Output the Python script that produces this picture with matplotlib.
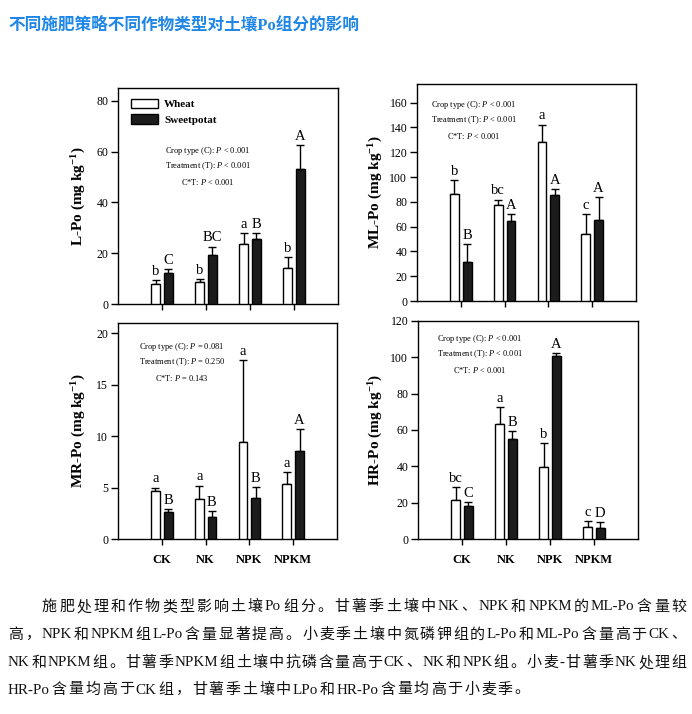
import matplotlib
matplotlib.use('Agg')
import matplotlib.pyplot as plt
import numpy as np

plt.rcParams['font.family'] = ['Liberation Serif', 'Noto Sans CJK SC', 'DejaVu Sans']
plt.rcParams['mathtext.fontset'] = 'custom'
plt.rcParams['mathtext.rm'] = 'Liberation Serif'
plt.rcParams['mathtext.it'] = 'Liberation Serif:italic'
plt.rcParams['mathtext.bf'] = 'Liberation Serif:bold'

W, H = 692, 714

TITLE = '不同施肥策略不同作物类型对土壤Po组分的影响'
PARAGRAPH = [
    '施肥处理和作物类型影响土壤Po组分。甘薯季土壤中NK、NPK和NPKM的ML-Po含量较',
    '高，NPK和NPKM组L-Po含量显著提高。小麦季土壤中氮磷钾组的L-Po和ML-Po含量高于CK、',
    'NK和NPKM组。甘薯季NPKM组土壤中抗磷含量高于CK、NK和NPK组。小麦-甘薯季NK处理组',
    'HR-Po含量均高于CK组，甘薯季土壤中LPo和HR-Po含量均高于小麦季。',
]

treatments = ['CK', 'NK', 'NPK', 'NPKM']
crops = ['Wheat', 'Sweetpotat']

# L-Po
lpo_wheat = [7.7, 8.8, 23.5, 14.3]
lpo_wheat_err = [1.7, 1.2, 4.3, 4.1]
lpo_sweet = [12.3, 19.4, 25.6, 53.2]
lpo_sweet_err = [1.6, 3.2, 2.5, 9.2]
lpo_wheat_sig = ['b', 'b', 'a', 'b']
lpo_sweet_sig = ['C', 'BC', 'B', 'A']
lpo_stats = ['< 0.001', '< 0.001', '< 0.001']

# ML-Po
mlpo_wheat = [86.4, 77.2, 128.4, 53.9]
mlpo_wheat_err = [10.8, 4.6, 13.9, 16.3]
mlpo_sweet = [31.6, 64.5, 85.6, 65.3]
mlpo_sweet_err = [14.3, 5.7, 4.9, 18.2]
mlpo_wheat_sig = ['b', 'bc', 'a', 'c']
mlpo_sweet_sig = ['B', 'A', 'A', 'A']
mlpo_stats = ['< 0.001', '< 0.001', '< 0.001']

# MR-Po
mrpo_wheat = [4.63, 3.9, 9.4, 5.37]
mrpo_wheat_err = [0.37, 1.3, 8.0, 1.1]
mrpo_sweet = [2.65, 2.17, 4.0, 8.6]
mrpo_sweet_err = [0.3, 0.53, 1.05, 2.05]
mrpo_wheat_sig = ['a', 'a', 'a', 'a']
mrpo_sweet_sig = ['B', 'B', 'B', 'A']
mrpo_stats = ['= 0.081', '= 0.250', '= 0.143']

# HR-Po
hrpo_wheat = [21.4, 63.1, 39.9, 6.6]
hrpo_wheat_err = [7.0, 9.3, 13.1, 3.4]
hrpo_sweet = [17.9, 55.2, 100.6, 6.3]
hrpo_sweet_err = [2.4, 4.1, 2.0, 3.1]
hrpo_wheat_sig = ['bc', 'a', 'b', 'c']
hrpo_sweet_sig = ['C', 'B', 'A', 'D']
hrpo_stats = ['< 0.001', '< 0.001', '< 0.001']

STAT_NAMES = ['Crop type (C)', 'Treatment (T)', 'C*T']


def frac(l, t, r, b):
    return [l / W, 1 - b / H, (r - l) / W, (b - t) / H]


fig = plt.figure(figsize=(W / 100, H / 100), dpi=100)
fig.patch.set_facecolor('white')

panels = [
    dict(rect=frac(118, 88, 338, 304), ylab='L-Po', ylim=85, step=20,
         w=lpo_wheat, we=lpo_wheat_err, s=lpo_sweet, se=lpo_sweet_err,
         wsig=lpo_wheat_sig, ssig=lpo_sweet_sig, stats=lpo_stats,
         stat_xy=(208, 151), labx=-0.136, xlabels=False, legend=True),
    dict(rect=frac(417, 84, 636, 301), ylab='ML-Po', ylim=175, step=20,
         w=mlpo_wheat, we=mlpo_wheat_err, s=mlpo_sweet, se=mlpo_sweet_err,
         wsig=mlpo_wheat_sig, ssig=mlpo_sweet_sig, stats=mlpo_stats,
         stat_xy=(474, 105), labx=-0.146, xlabels=False, legend=False),
    dict(rect=frac(118, 323, 337, 539), ylab='MR-Po', ylim=21, step=5,
         w=mrpo_wheat, we=mrpo_wheat_err, s=mrpo_sweet, se=mrpo_sweet_err,
         wsig=mrpo_wheat_sig, ssig=mrpo_sweet_sig, stats=mrpo_stats,
         stat_xy=(182, 347), labx=-0.137, xlabels=True, legend=False),
    dict(rect=frac(418, 321, 638, 539), ylab='HR-Po', ylim=120, step=20,
         w=hrpo_wheat, we=hrpo_wheat_err, s=hrpo_sweet, se=hrpo_sweet_err,
         wsig=hrpo_wheat_sig, ssig=hrpo_sweet_sig, stats=hrpo_stats,
         stat_xy=(480, 339), labx=-0.15, xlabels=True, legend=False),
]

x = np.arange(1, len(treatments) + 1)
off = 0.145
bw = 0.2

for p in panels:
    ax = fig.add_axes(p['rect'])
    zeros = np.zeros(len(x))
    bw_ = ax.bar(x - off, p['w'], bw, color='white', edgecolor='black',
                 linewidth=1.0, label=crops[0], zorder=3)
    bs_ = ax.bar(x + off, p['s'], bw, color='#1c1c1c', edgecolor='black',
                 linewidth=1.0, label=crops[1], zorder=3)
    ax.errorbar(x - off, p['w'], yerr=[zeros, p['we']], fmt='none',
                ecolor='black', elinewidth=1.0, capsize=3, capthick=1.0, zorder=2)
    ax.errorbar(x + off, p['s'], yerr=[zeros, p['se']], fmt='none',
                ecolor='black', elinewidth=1.0, capsize=3, capthick=1.0, zorder=2)

    for xi, v, e, lab in zip(x - off, p['w'], p['we'], p['wsig']):
        ax.annotate(lab, (xi, v + e), xytext=(0, 1.5), textcoords='offset points',
                    ha='center', va='bottom', fontsize=10.5)
    for xi, v, e, lab in zip(x + off, p['s'], p['se'], p['ssig']):
        ax.annotate(lab, (xi, v + e), xytext=(0, 1.5), textcoords='offset points',
                    ha='center', va='bottom', fontsize=10.5)

    ax.set_xlim(0, 5)
    ax.set_ylim(0, p['ylim'])
    ax.set_yticks(np.arange(0, p['ylim'] + 0.01, p['step']))
    ax.set_xticks(x)
    if p['xlabels']:
        ax.set_xticklabels(treatments, fontsize=9, fontweight='bold')
    else:
        ax.set_xticklabels([])
    ax.tick_params(axis='y', direction='out', length=5, width=1, labelsize=8.5, pad=2)
    ax.tick_params(axis='x', direction='out', length=4.5, width=1, pad=6)
    for sp in ax.spines.values():
        sp.set_linewidth(1.0)

    ax.set_ylabel(p['ylab'] + r' (mg kg$\mathbf{^{-1}}$)', fontsize=11,
                  fontweight='bold')
    ax.yaxis.set_label_coords(p['labx'], 0.5)

    sx, sy = p['stat_xy']
    for i, (name, val) in enumerate(zip(STAT_NAMES, p['stats'])):
        fig.text(sx / W, 1 - (sy + i * 15.5) / H, name + ': $P$ ' + val,
                 ha='center', va='center', fontsize=6)

    if p['legend']:
        ax.legend(handles=[bw_, bs_], loc='upper left',
                  bbox_to_anchor=((131 - 118) / 220, (304 - 99) / 216),
                  frameon=False, borderpad=0, borderaxespad=0,
                  handlelength=2.4, handleheight=0.9, handletextpad=0.6,
                  labelspacing=0.45, prop=dict(size=8, weight='bold'))

fig.text(8 / W, 1 - 25 / H, TITLE, color='#1e86e6', fontsize=12,
         fontweight='bold', ha='left', va='center',
         family=['Liberation Serif', 'Noto Sans CJK SC'])


# paragraph: justified, one token per CJK char, latin runs kept together
def tokens(line):
    out, run = [], ''
    for ch in line:
        if ord(ch) < 128:
            run += ch
        else:
            if run:
                out.append(run)
                run = ''
            out.append(ch)
    if run:
        out.append(run)
    return out


PARA_FONT = dict(fontsize=10.8, color='#111111',
                 family=['Liberation Serif', 'Noto Sans CJK SC'])
para_y = [607, 635, 663, 690]
para_x = [42, 8, 8, 8]
right_px = 686
renderer = fig.canvas.get_renderer()
gaps = []
for k, (line, px_, py_) in enumerate(zip(PARAGRAPH, para_x, para_y)):
    toks = tokens(line)
    objs, widths = [], []
    for t in toks:
        o = fig.text(0, 1 - py_ / H, t, ha='left', va='center', **PARA_FONT)
        widths.append(o.get_window_extent(renderer).width)
        objs.append(o)
    if k < len(PARAGRAPH) - 1:
        gap = (right_px - px_ - sum(widths)) / (len(toks) - 1)
        gaps.append(gap)
    else:
        gap = np.mean(gaps)
    cur = px_
    for o, wdt in zip(objs, widths):
        o.set_x(cur / W)
        cur += wdt + gap

fig.savefig('out.png', dpi=100)
